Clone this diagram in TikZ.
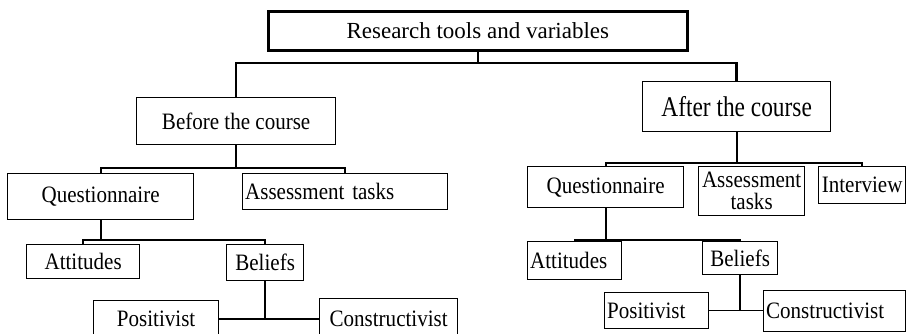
\documentclass[tikz,border=0pt]{standalone}
\usepackage{fontspec}
\setmainfont{Liberation Serif}
\newfontfamily\fnorm[FakeStretch=0.895]{Liberation Serif}
\newfontfamily\fafter[FakeStretch=0.82]{Liberation Serif}
\begin{document}
\begin{tikzpicture}[x=1pt,y=-1pt,
  bx/.style={draw, line width=1.3pt, inner sep=0pt, anchor=north west,
    font=\fnorm\fontsize{23.5}{22}\selectfont, align=center},
  lbx/.style={bx, align=left, inner xsep=2.5pt},
  topbx/.style={bx, line width=2.6pt, font=\fontsize{23}{24}\selectfont},
  cA/.style={line width=2.5pt},
  cB/.style={line width=2pt},
  cC/.style={line width=1.5pt}]
\useasboundingbox (0,0) rectangle (907,333);
\clip (0,0) rectangle (907,333);
\fill[white] (0,0) rectangle (907,333);
% boxes
\node[topbx, minimum width=419pt, minimum height=39pt] (top) at (267,10) {Research tools and variables};
\node[bx, minimum width=199pt, minimum height=47pt] (bef) at (136,97) {Before the course};
\node[bx, minimum width=188pt, minimum height=50pt, font=\fafter\fontsize{28.5}{30}\selectfont] (aft) at (642,81) {After the course};
% left subtree
\node[bx, minimum width=186pt, minimum height=46pt] (q1) at (7,173) {Questionnaire};
\node[lbx, text width=200pt, minimum height=36pt] (as1) at (242,173) {Assessment tasks};
\node[bx, minimum width=113pt, minimum height=34pt] (at1) at (26,244) {Attitudes};
\node[bx, minimum width=77pt, minimum height=36pt] (be1) at (226,244) {Beliefs};
\node[bx, minimum width=125pt, minimum height=37pt] (po1) at (93,300) {Positivist};
\node[bx, minimum width=138pt, minimum height=40pt] (co1) at (319,298) {Constructivist};
% right subtree
\node[bx, minimum width=156pt, minimum height=41pt] (q2) at (527,166) {Questionnaire};
\node[bx, minimum width=106pt, minimum height=49pt] (as2) at (698,166) {Assessment\\tasks};
\node[bx, minimum width=87pt, minimum height=37pt] (iv) at (818,166) {Interview};
\node[lbx, text width=89pt, minimum height=38pt] (at2) at (527,241) {Attitudes};
\node[bx, minimum width=75pt, minimum height=33pt] (be2) at (702,241) {Beliefs};
\node[lbx, text width=99pt, minimum height=36pt] (po2) at (604,292) {Positivist};
\node[lbx, text width=137pt, minimum height=41pt] (co2) at (763,290) {Constructivist};
% level coordinates
\coordinate (h1) at (0,63);
\coordinate (h2l) at (0,168);
\coordinate (h2r) at (0,163);
\coordinate (h3) at (0,240);
% connectors level 1
\draw[cA] (top.south) -- (top.south |- h1);
\draw[cA] (bef.north) -- (bef.north |- h1) -- (aft.north |- h1) -- (aft.north);
% left level 2
\draw[cB] (bef.south) -- (bef.south |- h2l);
\draw[cB] (q1.north) -- (q1.north |- h2l) -- (as1.north |- h2l) -- (as1.north);
% left level 3
\draw[cB] (q1.south) -- (q1.south |- h3);
\draw[cB] (at1.north) -- (at1.north |- h3) -- (be1.north |- h3) -- (be1.north);
% left beliefs
\draw[cB] (be1.south) -- (be1.south |- po1.east);
\draw[cC] (po1.east) -- (po1.east -| co1.west);
% right level 2
\draw[cB] (aft.south) -- (aft.south |- h2r);
\draw[cB] (q2.north) -- (q2.north |- h2r) -- (iv.north |- h2r) -- (iv.north);
% right level 3
\draw[cB] (q2.south) -- (q2.south |- h3);
\draw[cB] (at2.north) -- (at2.north |- h3) -- (be2.north |- h3) -- (be2.north);
% right beliefs
\draw[cB] (be2.south) -- (be2.south |- po2.east);
\draw[cC] (po2.east) -- (po2.east -| co2.west);
\end{tikzpicture}
\end{document}
